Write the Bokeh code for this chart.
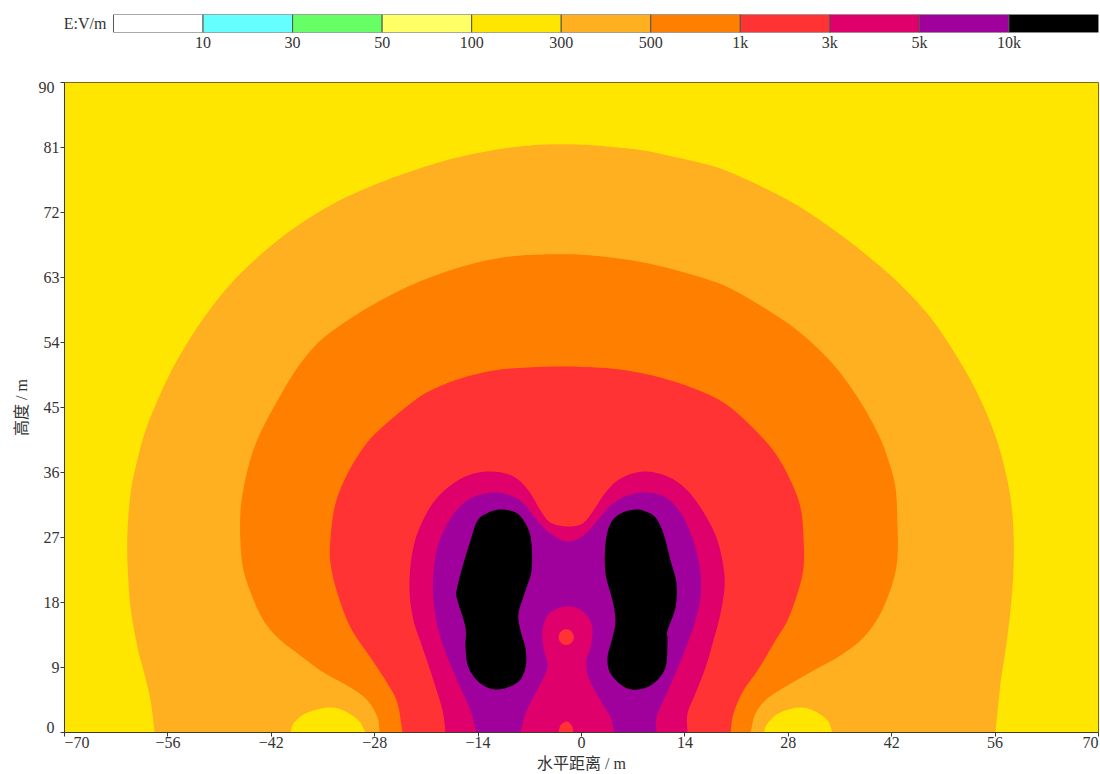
import numpy as np
from bokeh.embed import file_html
from bokeh.layouts import column
from bokeh.models import FixedTicker, LinearAxis, Range1d
from bokeh.plotting import figure
from bokeh.resources import INLINE

# ---- legend ----
legend_title = "E:V/m"
legend_ticks = ["10", "30", "50", "100", "300", "500", "1k", "3k", "5k", "10k"]
legend_colors = ["#FFFFFF", "#66FFFF", "#66FF66", "#FFFF66", "#FFE600", "#FFB020",
                 "#FF8000", "#FF3333", "#E0006B", "#A0009B", "#000000"]
YELLOW, AMBER, ORANGE, RED, MAGENTA, PURPLE, BLACK = legend_colors[4:]

x_tick_values = [-70, -56, -42, -28, -14, 0, 14, 28, 42, 56, 70]
x_tick_labels = ["\u221270", "\u221256", "\u221242", "\u221228", "\u221214", "0", "14", "28", "42", "56", "70"]
y_tick_values = [0, 9, 18, 27, 36, 45, 54, 63, 72, 81, 90]
y_tick_labels = ["0", "9", "18", "27", "36", "45", "54", "63", "72", "81", "90"]
x_title = "水平距离 / m"
y_title = "高度 / m"

# ---- contour outlines, metres ----
amber_x = [-57.81, -58.35, -59.30, -60.11, -61.06, -61.47, -61.47, -61.06, -60.38, -59.03, -57.00, -54.70, -51.58, -47.93, -43.87, -38.99, -33.04, -27.62, -23.15, -18.68, -14.08, -9.61, -5.14, -0.54, 3.93, 8.39, 13.00, 17.47, 20.17, 24.64, 29.24, 33.71, 38.18, 42.78, 47.25, 50.91, 53.62, 55.78, 57.14, 58.08, 58.49, 58.49, 58.08, 57.41, 56.73, 56.05]
amber_y = [0, 4.43, 8.58, 11.77, 17.31, 23.40, 27.97, 33.09, 36.69, 41.82, 46.94, 51.65, 56.77, 61.62, 65.77, 69.79, 73.52, 76.00, 77.68, 79.13, 80.24, 81.00, 81.40, 81.42, 81.10, 80.60, 79.60, 78.51, 77.54, 75.46, 72.97, 69.93, 66.46, 62.40, 57.46, 51.92, 46.94, 41.82, 37.25, 32.54, 27.97, 22.43, 16.89, 11.35, 6.78, 0]

orange_x = [-27.35, -27.62, -28.97, -31.28, -34.93, -38.45, -41.16, -43.05, -44.54, -45.76, -46.17, -46.17, -45.63, -44.68, -43.33, -41.16, -38.45, -35.34, -31.28, -27.21, -23.15, -18.68, -14.08, -9.61, -5.14, -0.54, 3.93, 8.39, 13.00, 17.47, 20.17, 24.64, 29.24, 33.71, 37.23, 39.94, 41.43, 42.51, 42.78, 42.78, 42.11, 40.48, 38.18, 35.07, 31.41, 27.89, 25.18, 23.56, 22.88]
orange_y = [0, 2.08, 4.43, 6.23, 8.31, 10.94, 13.15, 15.51, 18.69, 22.43, 26.17, 30.74, 34.48, 38.35, 41.82, 45.97, 50.54, 54.28, 57.32, 59.82, 61.89, 63.69, 65.08, 65.91, 66.19, 66.19, 65.77, 65.08, 63.97, 62.59, 61.48, 58.85, 55.66, 51.40, 46.66, 41.82, 38.08, 33.92, 28.94, 24.23, 20.63, 16.48, 13.15, 10.66, 8.58, 6.51, 4.71, 2.63, 0]

red_x = [-24.24, -24.91, -26.27, -28.57, -31.28, -33.04, -33.98, -33.98, -33.31, -31.68, -29.52, -27.48, -23.15, -20.44, -16.38, -11.91, -7.31, -1.90, 3.93, 8.39, 13.00, 17.47, 20.17, 23.56, 26.27, 28.30, 29.65, 30.06, 30.06, 29.24, 27.89, 26.27, 23.83, 21.93, 20.58, 20.17]
red_y = [0, 4.02, 6.78, 10.38, 14.54, 19.25, 23.40, 27.00, 31.71, 35.86, 39.46, 41.82, 45.56, 47.36, 49.02, 50.12, 50.54, 50.68, 50.40, 49.71, 48.46, 46.66, 45.00, 41.82, 38.63, 34.89, 31.15, 27.00, 22.85, 19.25, 15.51, 12.74, 8.58, 5.82, 2.63, 0]

magenta_x = [-18.41, -18.82, -20.04, -21.53, -22.75, -23.29, -23.02, -22.07, -20.17, -17.74, -15.03, -12.05, -9.21, -7.18, -5.55, -4.20, -1.90, 0.14, 1.62, 3.25, 5.28, 8.39, 11.64, 14.35, 16.79, 18.41, 19.23, 19.36, 18.82, 17.87, 16.79, 15.43, 14.35, 14.35]
magenta_y = [0, 3.05, 7.20, 11.77, 15.51, 19.66, 24.23, 27.97, 31.71, 34.20, 35.72, 36.14, 35.45, 33.51, 30.74, 29.08, 28.52, 28.94, 30.74, 33.23, 35.17, 36.14, 35.45, 33.51, 30.05, 26.59, 22.85, 20.08, 16.48, 12.74, 9.00, 5.40, 2.63, 0]

purple_x = [-14.22, -15.03, -16.65, -18.14, -19.36, -20.04, -20.04, -19.36, -17.47, -15.03, -12.05, -9.61, -7.85, -5.96, -4.20, -1.90, 0.27, 2.17, 3.93, 6.23, 8.94, 11.64, 13.81, 15.43, 16.11, 16.11, 15.43, 14.35, 12.73, 11.10, 10.15, 10.15]
purple_y = [0, 3.05, 6.78, 10.38, 14.12, 18.28, 22.02, 26.17, 30.05, 32.40, 33.23, 32.82, 31.71, 29.35, 27.55, 26.45, 27.28, 29.35, 31.43, 32.82, 33.23, 32.40, 29.77, 25.62, 22.02, 18.69, 15.51, 12.32, 8.17, 4.43, 2.08, 0]

core_x = [-8.26, -7.58, -6.23, -4.87, -4.60, -5.14, -5.28, -4.60, -3.25, -1.90, -0.41, 0.95, 1.49, 1.22, 0.68, 0.95, 2.57, 3.93, 4.47]
core_y = [0, 2.63, 5.40, 8.17, 9.55, 11.77, 14.12, 16.20, 17.17, 17.45, 17.17, 15.92, 14.12, 11.77, 9.97, 7.62, 4.43, 2.08, 0]

foot_x = [-3.11, -2.84, -2.03, -1.35, -1.08]
foot_y = [0, 0.97, 1.52, 0.97, 0]

spot_x = [-2.07]
spot_y = [13.2]
spot_w = [2.07]
spot_h = [2.17]

black_l_x = [-10.83, -8.67, -7.31, -6.77, -6.77, -7.58, -8.53, -8.26, -7.58, -7.58, -8.67, -11.37, -13.67, -15.30, -15.71, -15.71, -16.79, -16.92, -15.98, -15.03, -14.08, -12.59]
black_l_y = [30.88, 30.32, 28.39, 26.17, 22.43, 19.66, 16.48, 14.12, 11.63, 9.00, 6.92, 5.95, 6.78, 9.00, 11.77, 14.54, 18.28, 19.66, 23.40, 26.59, 29.35, 30.46]
black_r_x = [7.31, 5.28, 3.93, 3.25, 3.25, 4.20, 4.60, 4.20, 3.52, 3.93, 5.69, 7.58, 9.75, 11.37, 11.64, 11.64, 12.73, 12.86, 12.05, 11.10, 10.02, 8.67]
black_r_y = [30.88, 30.32, 28.94, 26.17, 22.02, 18.28, 15.51, 13.15, 10.38, 8.17, 6.37, 5.95, 6.78, 9.00, 12.74, 14.12, 17.31, 20.63, 23.82, 27.55, 29.77, 30.60]

lobe_l_x = [-39.40, -38.99, -37.37, -34.39, -32.22, -30.19, -29.24]
lobe_r_x = [24.64, 25.18, 26.67, 29.24, 31.41, 33.31, 33.98]
lobe_y = [0, 1.25, 2.63, 3.46, 3.05, 1.66, 0]

TICK_FONT = "Liberation Serif"
TEXT_FONT = "Liberation Serif, Noto Sans CJK SC"
TEXT_COLOR = "#333333"
AXIS_COLOR = "#3a3a2a"


def spline(xs, ys, closed=False, steps=8):
    pts = np.column_stack([xs, ys]).astype(float)
    if closed:
        pts = np.vstack([pts[-1], pts, pts[0], pts[1]])
    else:
        pts = np.vstack([2 * pts[0] - pts[1], pts, 2 * pts[-1] - pts[-2]])
    t = np.linspace(0, 1, steps, endpoint=False)[:, None]
    out = []
    for i in range(1, len(pts) - 2):
        a, b, c, d = pts[i - 1], pts[i], pts[i + 1], pts[i + 2]
        out.append(0.5 * (2 * b + (c - a) * t + (2 * a - 5 * b + 4 * c - d) * t**2 + (3 * b - a - 3 * c + d) * t**3))
    out.append(pts[-2][None, :])
    out = np.vstack(out)
    return out[:, 0], np.maximum(out[:, 1], 0)


# ---- legend strip ----
n = len(legend_colors)
bar = figure(width=1100, height=68, output_backend="svg", toolbar_location=None,
             x_range=Range1d(-0.5472, n), y_range=Range1d(0, 1),
             min_border_left=64, min_border_right=2, min_border_top=14, min_border_bottom=36)
bar.grid.visible = False
bar.outline_line_color = None
bar.yaxis.visible = False
bar.quad(left=list(range(n)), right=list(range(1, n + 1)), bottom=0, top=1,
         fill_color=legend_colors, line_color="#555555", line_width=1)
bar.text(x=[-0.08], y=[0.5], text=[legend_title], text_align="right", text_baseline="middle",
         text_font={"value": TICK_FONT}, text_font_size={"value": "16px"}, text_color=TEXT_COLOR)
bar.xaxis.ticker = FixedTicker(ticks=list(range(1, n)))
bar.xaxis.major_label_overrides = {i + 1: t for i, t in enumerate(legend_ticks)}
bar.xaxis.axis_line_color = None
bar.xaxis.major_tick_line_color = None
bar.xaxis.minor_tick_line_color = None
bar.xaxis.major_tick_in = 0
bar.xaxis.major_tick_out = 0
bar.xaxis.major_label_standoff = 1
bar.xaxis.major_label_text_font = TICK_FONT
bar.xaxis.major_label_text_font_size = "16px"
bar.xaxis.major_label_text_color = TEXT_COLOR

# ---- main map ----
p = figure(width=1100, height=706, output_backend="svg", toolbar_location=None,
           x_range=Range1d(-70, 70), y_range=Range1d(0, 90),
           min_border_left=64, min_border_right=2, min_border_top=14, min_border_bottom=42)
p.grid.visible = False
p.background_fill_color = YELLOW
p.outline_line_color = "#7a6a18"
p.outline_line_width = 1

open_bands = [
    (amber_x, amber_y, AMBER), (lobe_l_x, lobe_y, YELLOW), (lobe_r_x, lobe_y, YELLOW),
    (orange_x, orange_y, ORANGE), (red_x, red_y, RED), (magenta_x, magenta_y, MAGENTA),
    (purple_x, purple_y, PURPLE), (core_x, core_y, MAGENTA), (foot_x, foot_y, RED),
]
for bx, by, c in open_bands:
    sx, sy = spline(bx, by)
    p.patch(sx, sy, fill_color=c, line_color=None)
for bx, by, c in [(black_l_x, black_l_y, BLACK), (black_r_x, black_r_y, BLACK)]:
    sx, sy = spline(bx, by, closed=True)
    p.patch(sx, sy, fill_color=c, line_color=None)
p.ellipse(x=spot_x, y=spot_y, width=spot_w, height=spot_h, fill_color=RED, line_color=None)

p.xaxis.ticker = FixedTicker(ticks=x_tick_values)
p.xaxis.major_label_overrides = {v: ("" if v in (-70, 70) else t) for v, t in zip(x_tick_values, x_tick_labels)}
p.yaxis.ticker = FixedTicker(ticks=y_tick_values)
p.yaxis.major_label_overrides = {v: ("" if v in (0, 90) else t) for v, t in zip(y_tick_values, y_tick_labels)}
for ax in (p.xaxis, p.yaxis):
    ax.axis_line_color = AXIS_COLOR
    ax.axis_line_width = 1
    ax.major_tick_line_color = AXIS_COLOR
    ax.major_tick_in = 0
    ax.major_tick_out = 4
    ax.minor_tick_line_color = None
    ax.major_label_text_font = TICK_FONT
    ax.major_label_text_font_size = "16px"
    ax.major_label_text_color = TEXT_COLOR
    ax.axis_label_text_font = TEXT_FONT
    ax.axis_label_text_font_size = "16px"
    ax.axis_label_text_font_style = "normal"
    ax.axis_label_text_color = TEXT_COLOR
p.xaxis.major_label_standoff = 0
p.yaxis.major_label_standoff = 1
p.xaxis.axis_label = x_title
p.xaxis.axis_label_standoff = 4
p.yaxis.axis_label = y_title
p.yaxis.axis_label_standoff = 11

# The reference pulls its end labels inside the frame's span: they get axes of
# their own, stacked outside the main ones and pulled back by a negative standoff,
# on ranges nudged so the labels line up.
p.extra_x_ranges = {"ends": Range1d(-71.73, 71.10)}
p.extra_y_ranges = {"ends": Range1d(-0.692, 90.692)}
end_x = LinearAxis(x_range_name="ends", ticker=FixedTicker(ticks=[x_tick_values[0], x_tick_values[-1]]),
                   major_label_overrides={x_tick_values[0]: x_tick_labels[0], x_tick_values[-1]: x_tick_labels[-1]})
end_y = LinearAxis(y_range_name="ends", ticker=FixedTicker(ticks=[y_tick_values[0], y_tick_values[-1]]),
                   major_label_overrides={y_tick_values[0]: y_tick_labels[0], y_tick_values[-1]: y_tick_labels[-1]})
for ax in (end_x, end_y):
    ax.axis_line_color = None
    ax.major_tick_line_color = None
    ax.minor_tick_line_color = None
    ax.major_tick_in = 0
    ax.major_tick_out = 0
    ax.major_label_text_font = TICK_FONT
    ax.major_label_text_font_size = "16px"
    ax.major_label_text_color = TEXT_COLOR
end_x.major_label_standoff = -38
end_y.major_label_standoff = -45
p.add_layout(end_x, "below")
p.add_layout(end_y, "left")

page = column(bar, p, spacing=0)
open("out.html", "w").write(file_html(page, INLINE))
